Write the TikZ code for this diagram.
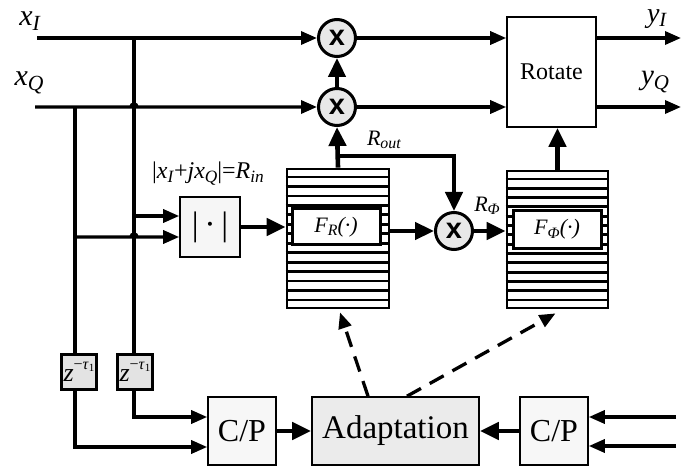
\documentclass[tikz,border=0pt]{standalone}
\usepackage{fontspec}
\setmainfont{Liberation Serif}
\setsansfont{Liberation Sans}
\usepackage{graphicx}
\usetikzlibrary{arrows.meta,calc}
\newcommand\vs[2]{\textit{#1}\raisebox{-0.35ex}{\scalebox{0.72}{\textit{#2}}}}
\newcommand\fs[1]{\fontsize{#1}{#1}\selectfont}
\begin{document}
\begin{tikzpicture}[x=1pt,y=-1pt,
  sig/.style={line width=3.3pt},
  thk/.style={line width=4.6pt},
  arr/.style={-{Triangle[length=16pt,width=13pt]}},
  tarr/.style={-{Triangle[length=19pt,width=17pt]}},
  mult/.style={circle,draw,line width=3pt,fill=gray!18,minimum size=37pt,inner sep=0pt,font=\fs{29}\sffamily\bfseries},
  thinbox/.style={draw,line width=1.6pt,inner sep=0pt},
  zbox/.style={draw,line width=3.4pt,fill=gray!22,minimum size=35pt,inner sep=0pt},
  lutbox/.style={draw,line width=2.8pt,inner sep=0pt},
  innerbox/.style={draw,line width=3pt,fill=white,inner sep=0pt},
  lbl/.style={inner sep=0pt}]
\useasboundingbox (0,0) rectangle (681,468);

% multipliers and rotate
\node[mult] (m1) at (337,38) {x};
\node[mult] (m2) at (337,107) {x};
\node[mult] (m3) at (454,231) {x};
\node[thinbox,fill=white,minimum width=89pt,minimum height=110pt] (rot) at (551.5,72) {\fs{24}Rotate};
\node[thinbox,fill=gray!7,minimum size=60pt] (abs) at (210,227) {\fs{34}|\,·\,|};

% LUTs
\node[lutbox,minimum width=102pt,minimum height=139pt] (lut1) at (338,238.5) {};
\node[lutbox,minimum width=101pt,minimum height=137pt] (lut2) at (557.5,239.5) {};
\foreach \L in {lut1,lut2}{
  \foreach \k in {1,...,14}{
    \draw[line width=2.8pt] ($(\L.north west)!\k/15!(\L.south west)$) -- ($(\L.north east)!\k/15!(\L.south east)$);
  }
}
\node[innerbox,minimum width=88pt,minimum height=36pt] (f1) at (336,227) {\fs{22}\vs{F}{R}\textit{(·)}};
\node[innerbox,minimum width=88pt,minimum height=38pt] (f2) at (557,229.5) {\fs{22}\vs{F}{Φ}\textit{(·)}};

% delays and bottom row
\node[zbox] (z1) at (79,372) {\fs{26}\textit{z}\raisebox{1.0ex}{\fs{16}−\textit{τ}\raisebox{-0.3ex}{\fs{11}1}}};
\node[zbox] (z2) at (135,372) {\fs{26}\textit{z}\raisebox{1.0ex}{\fs{16}−\textit{τ}\raisebox{-0.3ex}{\fs{11}1}}};
\node[thinbox,fill=gray!6,minimum size=68pt] (cp1) at (242,431) {\fs{32}C/P};
\node[thinbox,fill=gray!16,minimum width=167pt,minimum height=68pt] (ad) at (395.5,431) {\fs{33}Adaptation};
\node[thinbox,fill=gray!6,minimum size=68pt] (cp2) at (554,431) {\fs{32}C/P};

% labels
\node[lbl] (lxi) at (30,21) {\fs{30}\vs{x}{I}};
\node[lbl] (lxq) at (29,83) {\fs{30}\vs{x}{Q}};
\node[lbl] (lyi) at (657,19) {\fs{28}\vs{y}{I}};
\node[lbl] (lyq) at (655,82) {\fs{29}\vs{y}{Q}};
\node[lbl] (lro) at (384,140) {\fs{22}\vs{R}{out}};
\node[lbl] (lrp) at (487,206) {\fs{22}\vs{R}{Φ}};
\node[lbl] (lrin) at (208,174) {\fs{24}|\vs{x}{I}+\textit{j}\vs{x}{Q}|=\vs{R}{in}};

% inputs
\coordinate (i0) at (37,38);
\coordinate (q0) at (35,107);
\coordinate (v2) at (134,38);
\coordinate (v1) at (75,107);
\draw[sig,arr] (i0) -- (m1.west);
\draw[sig,arr] (q0) -- (131,107) arc[start angle=180,end angle=360,radius=3] -- (m2.west);
\draw[sig] (v2) -- (v2 |- z2.north);
\draw[sig] (v1) -- (v1 |- z1.north);
\coordinate (a1) at (134,216);
\coordinate (a2) at (75,237);
\draw[sig,arr] (a1) -- (a1 -| abs.west);
\draw[sig,arr] (a2) -- (131,237) arc[start angle=180,end angle=360,radius=3] -- (a2 -| abs.west);

% main path
\draw[thk,tarr] (abs.east) -- (abs.east -| lut1.west);
\draw[thk,tarr] (lut1.north) -- (m2.south);
\draw[thk,tarr] (m2.north) -- (m1.south);
\coordinate (ro) at (338,156);
\draw[thk,tarr] (ro) -| (m3.north);
\draw[thk,tarr] (m3.west -| lut1.east) -- (m3.west);
\draw[thk,tarr] (m3.east) -- (m3.east -| lut2.west);
\draw[thk,tarr] (lut2.north) -- (lut2.north |- rot.south);
\draw[sig,arr] (m1.east) -- (m1.east -| rot.west);
\draw[sig,arr] (m2.east) -- (m2.east -| rot.west);
\coordinate (o1) at (681,38);
\coordinate (o2) at (681,107);
\draw[sig,arr] (rot.east |- o1) -- (o1);
\draw[sig,arr] (rot.east |- o2) -- (o2);

% bottom connections
\draw[sig,arr] (v2 |- z2.south) |- ([yshift=14pt]cp1.west);
\draw[sig,arr] (v1 |- z1.south) |- ([yshift=-16pt]cp1.west);
\draw[thk,tarr] (cp1.east) -- (ad.west);
\draw[thk,tarr] (cp2.west) -- (ad.east);
\coordinate (j1) at (676,417);
\coordinate (j2) at (676,446);
\draw[sig,arr] (j1) -- (j1 -| cp2.east);
\draw[sig,arr] (j2) -- (j2 -| cp2.east);

% adaptation (dashed)
\draw[sig,dash pattern=on 16pt off 10pt,arr] ([xshift=-27.5pt]ad.north) -- ([xshift=2pt,yshift=-3pt]lut1.south);
\draw[sig,dash pattern=on 16pt off 10pt,arr] ([xshift=11.5pt]ad.north) -- ([xshift=-2pt,yshift=-4pt]lut2.south);
\end{tikzpicture}
\end{document}
